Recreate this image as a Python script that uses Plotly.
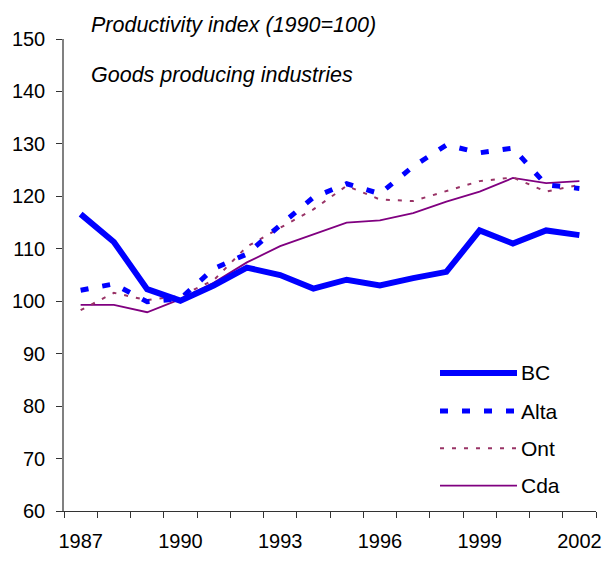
"""Productivity index, goods producing industries."""
import plotly.graph_objects as go

years = list(range(1987, 2003))
bc = [116.6, 111.3, 102.3, 100.1, 103.0, 106.4, 105.0, 102.4, 104.1, 103.0, 104.4, 105.6, 113.5, 111.0, 113.5, 112.6]
alta = [102.1, 103.3, 99.9, 100.5, 106.2, 109.0, 114.5, 119.8, 122.4, 120.5, 125.7, 129.8, 128.3, 129.2, 122.2, 121.5]
ont = [98.3, 101.6, 100.2, 101.0, 104.0, 110.4, 114.0, 117.5, 122.0, 119.4, 119.1, 121.0, 122.9, 123.6, 120.9, 122.2]
cda = [99.3, 99.3, 97.9, 100.4, 103.5, 107.4, 110.5, 112.8, 115.0, 115.4, 116.8, 119.0, 120.9, 123.5, 122.5, 122.9]

label_years = [1987, 1990, 1993, 1996, 1999, 2002]
y_ticks = list(range(60, 151, 10))

FONT = 'Liberation Sans, Arial, sans-serif'

series = [
    ('BC', bc, dict(color='#0000FF', width=6, dash='solid')),
    ('Alta', alta, dict(color='#0000FF', width=5, dash='8px,14px')),
    ('Ont', ont, dict(color='#993366', width=2, dash='4px,8px')),
    ('Cda', cda, dict(color='#800080', width=1.8, dash='solid')),
]

W, H = 615, 564
# plot area edges in pixels
left_px, right_px, top_px, bottom_px = 64, 596, 39, 521
plot_w = right_px - left_px
plot_h = bottom_px - top_px


def px_x(x):
    return (x - left_px) / plot_w


def px_y(y):
    return (bottom_px - y) / plot_h


fig = go.Figure()

# draw Cda first so thick lines sit on top, like the original
for name, vals, line in reversed(series):
    fig.add_trace(
        go.Scatter(
            x=years,
            y=vals,
            mode='lines',
            name=name,
            line=line,
            showlegend=False,
        ))

# hand-made legend, wider line samples than plotly's own
legend_px = [380, 419, 457, 495]
for (name, vals, line), py in zip(series, legend_px):
    fig.add_shape(
        type='line',
        xref='paper',
        yref='paper',
        x0=px_x(440),
        x1=px_x(517),
        y0=px_y(py),
        y1=px_y(py),
        line=line,
    )
    fig.add_annotation(
        text=name,
        xref='paper',
        yref='paper',
        x=px_x(519),
        y=px_y(py),
        xanchor='left',
        yanchor='middle',
        showarrow=False,
        font=dict(size=21, color='black', family=FONT),
    )

for text, ty in [('Productivity index (1990=100)', 25), ('Goods producing industries', 76)]:
    fig.add_annotation(
        text=f'<i>{text}</i>',
        xref='paper',
        yref='paper',
        x=px_x(89),
        y=px_y(ty),
        xanchor='left',
        yanchor='middle',
        showarrow=False,
        font=dict(size=21.5, color='black', family=FONT),
    )

fig.update_layout(
    width=W,
    height=H,
    margin=dict(l=left_px, r=W - right_px, t=top_px, b=H - bottom_px),
    plot_bgcolor='white',
    paper_bgcolor='white',
    font=dict(family=FONT, size=20, color='black'),
    showlegend=False,
)

fig.update_xaxes(
    range=[1986.5, 2002.5],
    tickvals=label_years,
    ticktext=[str(y) for y in label_years],
    ticks='',
    ticklabelstandoff=12,
    showgrid=False,
    zeroline=False,
    showline=True,
    linecolor='#333333',
    linewidth=1.3,
    minor=dict(
        tickvals=[y - 0.5 for y in years] + [2002.5],
        ticks='outside',
        ticklen=6,
        tickcolor='#333333',
        showgrid=False,
    ),
)

fig.update_yaxes(
    range=[60, 150],
    tickvals=y_ticks,
    ticks='outside',
    ticklen=6,
    tickcolor='#333333',
    ticklabelstandoff=7,
    showgrid=False,
    zeroline=False,
    showline=True,
    linecolor='#808080',
    linewidth=1.5,
)

# drop the browser's default 8px body margin so the figure fills the window
fig.write_html(
    'out.html',
    post_script="document.body.style.margin='0';document.body.style.overflow='hidden';",
    config={'displayModeBar': False},
)
